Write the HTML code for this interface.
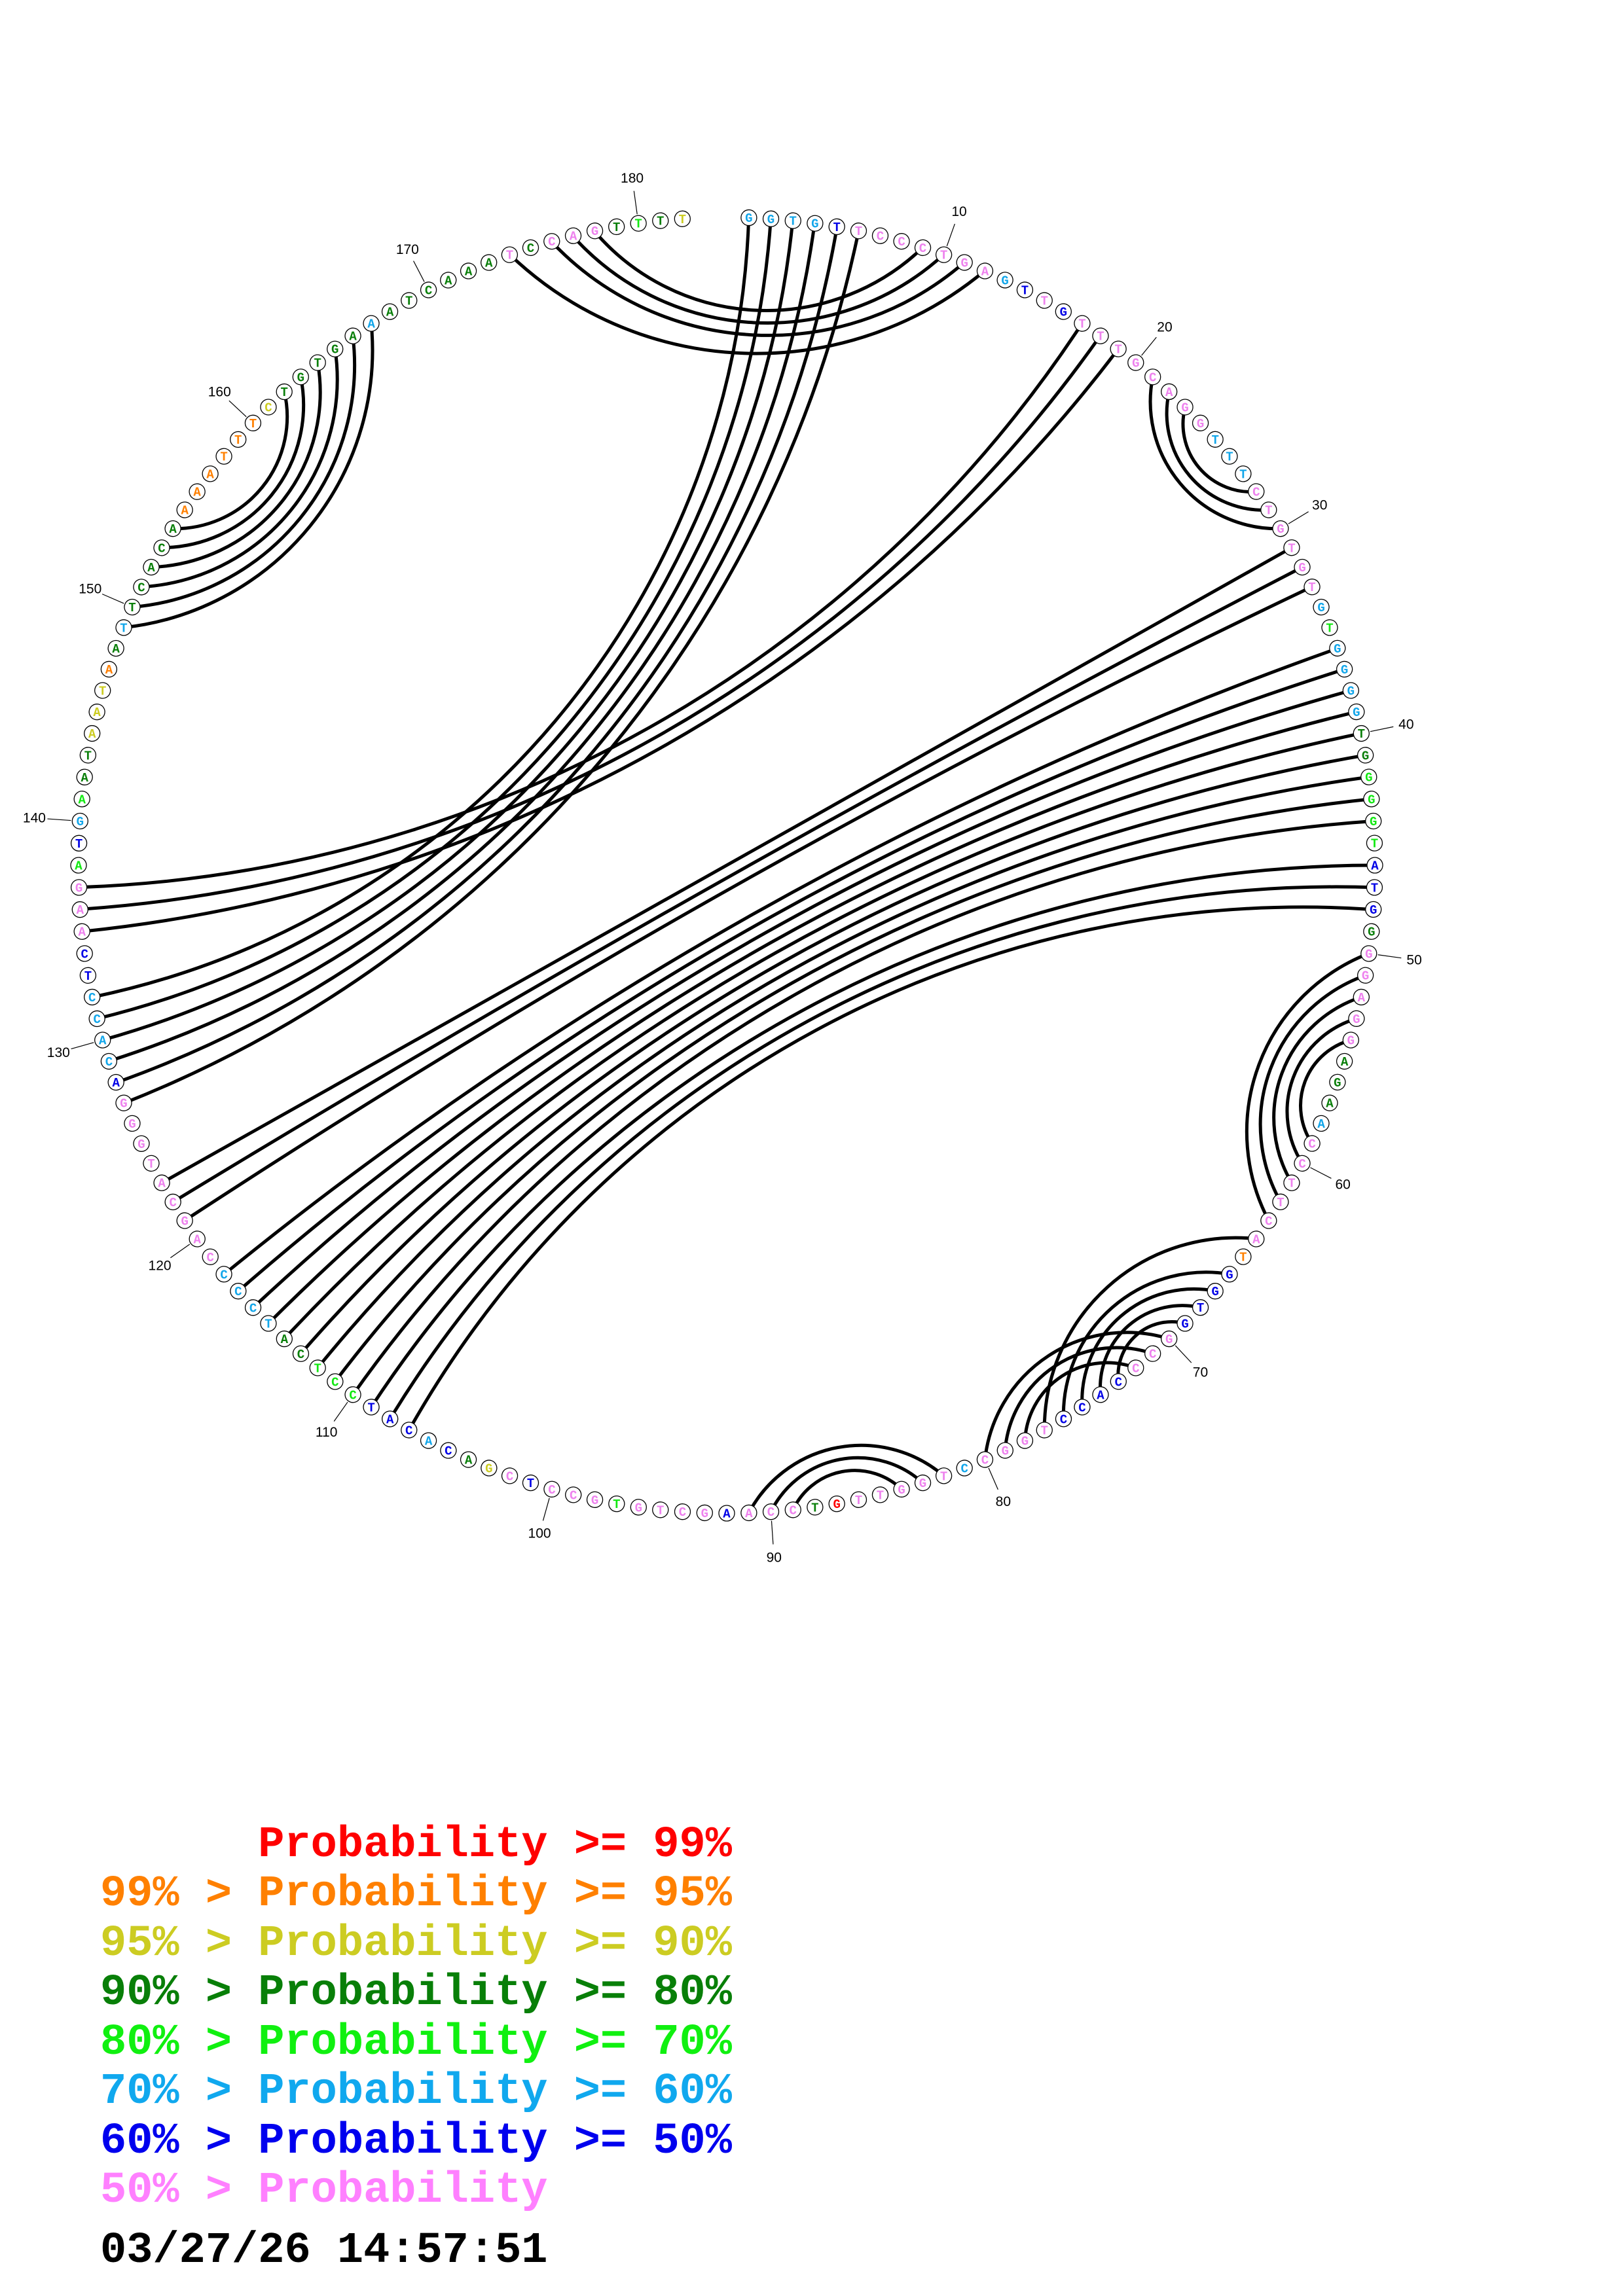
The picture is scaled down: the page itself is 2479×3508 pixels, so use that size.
<!DOCTYPE html>
<html><head><meta charset="utf-8">
<style>
html,body{margin:0;padding:0;background:#fff;}
svg{display:block;}
.n circle{fill:#fff;stroke:#000;stroke-width:1.3;}
.n text{font-family:"Liberation Mono",monospace;font-weight:bold;font-size:19px;text-anchor:middle;}
.P{fill:#ee82ee}.L{fill:#12a6ea}.B{fill:#0000e6}.D{fill:#0a7f0a}.E{fill:#12e812}.Y{fill:#cccc22}.O{fill:#ff8000}.R{fill:#ff0000}
.arc path{fill:none;stroke:#000;stroke-width:5;}
.lb line{stroke:#000;stroke-width:1.2;}
.lb text{font-family:"Liberation Sans",sans-serif;font-size:21px;text-anchor:middle;fill:#000;}
.lg text{font-family:"Liberation Mono",monospace;font-weight:bold;font-size:67px;white-space:pre;}
</style></head><body>
<svg width="2479" height="3508" viewBox="0 0 2479 3508" xmlns="http://www.w3.org/2000/svg">
<g class="arc">
<path transform="rotate(310.1 1110 1322)" d="M331.5 710.5 A1260.4 1260.4 0 0 0 1888.5 710.5"/>
<path transform="rotate(310.1 1110 1322)" d="M311.1 737.3 A1352.6 1352.6 0 0 0 1908.9 737.3"/>
<path transform="rotate(310.1 1110 1322)" d="M291.7 764.8 A1454 1454 0 0 0 1928.3 764.8"/>
<path transform="rotate(310.1 1110 1322)" d="M273.2 792.9 A1566 1566 0 0 0 1946.8 792.9"/>
<path transform="rotate(310.1 1110 1322)" d="M255.2 822.5 A1694.2 1694.2 0 0 0 1964.8 822.5"/>
<path transform="rotate(310.1 1110 1322)" d="M238.8 851.8 A1834.6 1834.6 0 0 0 1981.2 851.8"/>
<path transform="rotate(2.9 1110 1322)" d="M858.8 364.4 A345 345 0 0 0 1361.2 364.4"/>
<path transform="rotate(2.9 1110 1322)" d="M826.4 373.5 A398.9 398.9 0 0 0 1393.6 373.5"/>
<path transform="rotate(2.9 1110 1322)" d="M794.2 383.7 A455.9 455.9 0 0 0 1425.8 383.7"/>
<path transform="rotate(1.95 1110 1322)" d="M747.2 400.9 A544.7 544.7 0 0 0 1472.8 400.9"/>
<path transform="rotate(330.65 1110 1322)" d="M231.1 866.4 A1909.9 1909.9 0 0 0 1988.9 866.4"/>
<path transform="rotate(330.65 1110 1322)" d="M216 896.5 A2080 2080 0 0 0 2004 896.5"/>
<path transform="rotate(330.65 1110 1322)" d="M202 927.6 A2279.2 2279.2 0 0 0 2018 927.6"/>
<path transform="rotate(49.9 1110 1322)" d="M958.5 343.7 A194.2 194.2 0 0 0 1261.5 343.7"/>
<path transform="rotate(49.9 1110 1322)" d="M991.9 339 A147.9 147.9 0 0 0 1228.1 339"/>
<path transform="rotate(49.9 1110 1322)" d="M1025.6 335.6 A103.9 103.9 0 0 0 1194.4 335.6"/>
<path transform="rotate(150.65 1110 1322)" d="M120 1322 L2100 1322"/>
<path transform="rotate(150.65 1110 1322)" d="M120.6 1288.1 A28928 28928 0 0 0 2099.4 1288.1"/>
<path transform="rotate(150.65 1110 1322)" d="M122.3 1254.7 A14523 14523 0 0 0 2097.7 1254.7"/>
<path transform="rotate(150.65 1110 1322)" d="M134.4 1153.5 A5731 5731 0 0 0 2085.6 1153.5"/>
<path transform="rotate(150.65 1110 1322)" d="M140.7 1120.5 A4764 4764 0 0 0 2079.3 1120.5"/>
<path transform="rotate(150.65 1110 1322)" d="M148.2 1087.5 A4061 4061 0 0 0 2071.8 1087.5"/>
<path transform="rotate(150.65 1110 1322)" d="M156.7 1054.9 A3533 3533 0 0 0 2063.3 1054.9"/>
<path transform="rotate(150.65 1110 1322)" d="M166.3 1022.6 A3120 3120 0 0 0 2053.7 1022.6"/>
<path transform="rotate(150.65 1110 1322)" d="M177.2 990.4 A2785 2785 0 0 0 2042.8 990.4"/>
<path transform="rotate(150.65 1110 1322)" d="M189.1 958.9 A2511 2511 0 0 0 2030.9 958.9"/>
<path transform="rotate(150.65 1110 1322)" d="M202 927.6 A2279.2 2279.2 0 0 0 2018 927.6"/>
<path transform="rotate(150.65 1110 1322)" d="M215.9 896.7 A2080.9 2080.9 0 0 0 2004.1 896.7"/>
<path transform="rotate(151.63 1110 1322)" d="M239 851.6 A1833 1833 0 0 0 1981 851.6"/>
<path transform="rotate(151.63 1110 1322)" d="M255.5 822 A1692 1692 0 0 0 1964.5 822"/>
<path transform="rotate(151.63 1110 1322)" d="M273 793.2 A1567.2 1567.2 0 0 0 1947 793.2"/>
<path transform="rotate(110.54 1110 1322)" d="M892 356.3 A292.3 292.3 0 0 0 1328 356.3"/>
<path transform="rotate(110.54 1110 1322)" d="M925.2 349.4 A242.1 242.1 0 0 0 1294.8 349.4"/>
<path transform="rotate(110.54 1110 1322)" d="M958.5 343.7 A194.2 194.2 0 0 0 1261.5 343.7"/>
<path transform="rotate(110.54 1110 1322)" d="M991.9 339 A147.9 147.9 0 0 0 1228.1 339"/>
<path transform="rotate(110.54 1110 1322)" d="M1025.6 335.6 A103.9 103.9 0 0 0 1194.4 335.6"/>
<path transform="rotate(137.93 1110 1322)" d="M892 356.3 A292.3 292.3 0 0 0 1328 356.3"/>
<path transform="rotate(138.91 1110 1322)" d="M941.8 346.4 A218 218 0 0 0 1278.2 346.4"/>
<path transform="rotate(138.91 1110 1322)" d="M975.1 341.2 A171 171 0 0 0 1244.9 341.2"/>
<path transform="rotate(138.91 1110 1322)" d="M1008.7 337.1 A125.5 125.5 0 0 0 1211.3 337.1"/>
<path transform="rotate(138.91 1110 1322)" d="M1042.5 334.3 A82 82 0 0 0 1177.5 334.3"/>
<path transform="rotate(146.74 1110 1322)" d="M941.8 346.4 A218 218 0 0 0 1278.2 346.4"/>
<path transform="rotate(146.74 1110 1322)" d="M975.1 341.2 A171 171 0 0 0 1244.9 341.2"/>
<path transform="rotate(146.74 1110 1322)" d="M1008.7 337.1 A125.5 125.5 0 0 0 1211.3 337.1"/>
<path transform="rotate(169.24 1110 1322)" d="M958.5 343.7 A194.2 194.2 0 0 0 1261.5 343.7"/>
<path transform="rotate(169.24 1110 1322)" d="M991.9 339 A147.9 147.9 0 0 0 1228.1 339"/>
<path transform="rotate(169.24 1110 1322)" d="M1025.6 335.6 A103.9 103.9 0 0 0 1194.4 335.6"/>
<path transform="rotate(309.13 1110 1322)" d="M810.5 378.4 A426.6 426.6 0 0 0 1409.5 378.4"/>
<path transform="rotate(309.13 1110 1322)" d="M842.9 368.7 A371.5 371.5 0 0 0 1376.9 368.7"/>
<path transform="rotate(309.13 1110 1322)" d="M875.6 360.1 A317.8 317.8 0 0 0 1344.4 360.1"/>
<path transform="rotate(309.13 1110 1322)" d="M908.5 352.7 A267.4 267.4 0 0 0 1311.5 352.7"/>
<path transform="rotate(309.13 1110 1322)" d="M941.8 346.4 A218 218 0 0 0 1278.2 346.4"/>
<path transform="rotate(309.13 1110 1322)" d="M975.1 341.2 A171 171 0 0 0 1244.9 341.2"/>
</g>
<g class="lb">
<g transform="rotate(19.57 1110 1322)"><line x1="1110" y1="318" x2="1110" y2="282"/><text x="1110" y="269" transform="rotate(-19.57 1110 262)">10</text></g>
<g transform="rotate(39.13 1110 1322)"><line x1="1110" y1="318" x2="1110" y2="282"/><text x="1110" y="269" transform="rotate(-39.13 1110 262)">20</text></g>
<g transform="rotate(58.70 1110 1322)"><line x1="1110" y1="318" x2="1110" y2="282"/><text x="1110" y="269" transform="rotate(-58.70 1110 262)">30</text></g>
<g transform="rotate(78.26 1110 1322)"><line x1="1110" y1="318" x2="1110" y2="282"/><text x="1110" y="269" transform="rotate(-78.26 1110 262)">40</text></g>
<g transform="rotate(97.83 1110 1322)"><line x1="1110" y1="318" x2="1110" y2="282"/><text x="1110" y="269" transform="rotate(-97.83 1110 262)">50</text></g>
<g transform="rotate(117.39 1110 1322)"><line x1="1110" y1="318" x2="1110" y2="282"/><text x="1110" y="269" transform="rotate(-117.39 1110 262)">60</text></g>
<g transform="rotate(136.96 1110 1322)"><line x1="1110" y1="318" x2="1110" y2="282"/><text x="1110" y="269" transform="rotate(-136.96 1110 262)">70</text></g>
<g transform="rotate(156.52 1110 1322)"><line x1="1110" y1="318" x2="1110" y2="282"/><text x="1110" y="269" transform="rotate(-156.52 1110 262)">80</text></g>
<g transform="rotate(176.09 1110 1322)"><line x1="1110" y1="318" x2="1110" y2="282"/><text x="1110" y="269" transform="rotate(-176.09 1110 262)">90</text></g>
<g transform="rotate(195.65 1110 1322)"><line x1="1110" y1="318" x2="1110" y2="282"/><text x="1110" y="269" transform="rotate(-195.65 1110 262)">100</text></g>
<g transform="rotate(215.22 1110 1322)"><line x1="1110" y1="318" x2="1110" y2="282"/><text x="1110" y="269" transform="rotate(-215.22 1110 262)">110</text></g>
<g transform="rotate(234.78 1110 1322)"><line x1="1110" y1="318" x2="1110" y2="282"/><text x="1110" y="269" transform="rotate(-234.78 1110 262)">120</text></g>
<g transform="rotate(254.35 1110 1322)"><line x1="1110" y1="318" x2="1110" y2="282"/><text x="1110" y="269" transform="rotate(-254.35 1110 262)">130</text></g>
<g transform="rotate(273.91 1110 1322)"><line x1="1110" y1="318" x2="1110" y2="282"/><text x="1110" y="269" transform="rotate(-273.91 1110 262)">140</text></g>
<g transform="rotate(293.48 1110 1322)"><line x1="1110" y1="318" x2="1110" y2="282"/><text x="1110" y="269" transform="rotate(-293.48 1110 262)">150</text></g>
<g transform="rotate(313.04 1110 1322)"><line x1="1110" y1="318" x2="1110" y2="282"/><text x="1110" y="269" transform="rotate(-313.04 1110 262)">160</text></g>
<g transform="rotate(332.61 1110 1322)"><line x1="1110" y1="318" x2="1110" y2="282"/><text x="1110" y="269" transform="rotate(-332.61 1110 262)">170</text></g>
<g transform="rotate(352.17 1110 1322)"><line x1="1110" y1="318" x2="1110" y2="282"/><text x="1110" y="269" transform="rotate(-352.17 1110 262)">180</text></g>
</g>
<g class="n">
<g transform="rotate(1.96 1110 1322)"><circle cx="1110" cy="332" r="12"/><text class="L" x="1110" y="338.5" transform="rotate(-1.96 1110 332)">G</text></g>
<g transform="rotate(3.91 1110 1322)"><circle cx="1110" cy="332" r="12"/><text class="L" x="1110" y="338.5" transform="rotate(-3.91 1110 332)">G</text></g>
<g transform="rotate(5.87 1110 1322)"><circle cx="1110" cy="332" r="12"/><text class="L" x="1110" y="338.5" transform="rotate(-5.87 1110 332)">T</text></g>
<g transform="rotate(7.83 1110 1322)"><circle cx="1110" cy="332" r="12"/><text class="L" x="1110" y="338.5" transform="rotate(-7.83 1110 332)">G</text></g>
<g transform="rotate(9.78 1110 1322)"><circle cx="1110" cy="332" r="12"/><text class="B" x="1110" y="338.5" transform="rotate(-9.78 1110 332)">T</text></g>
<g transform="rotate(11.74 1110 1322)"><circle cx="1110" cy="332" r="12"/><text class="P" x="1110" y="338.5" transform="rotate(-11.74 1110 332)">T</text></g>
<g transform="rotate(13.70 1110 1322)"><circle cx="1110" cy="332" r="12"/><text class="P" x="1110" y="338.5" transform="rotate(-13.70 1110 332)">C</text></g>
<g transform="rotate(15.65 1110 1322)"><circle cx="1110" cy="332" r="12"/><text class="P" x="1110" y="338.5" transform="rotate(-15.65 1110 332)">C</text></g>
<g transform="rotate(17.61 1110 1322)"><circle cx="1110" cy="332" r="12"/><text class="P" x="1110" y="338.5" transform="rotate(-17.61 1110 332)">C</text></g>
<g transform="rotate(19.57 1110 1322)"><circle cx="1110" cy="332" r="12"/><text class="P" x="1110" y="338.5" transform="rotate(-19.57 1110 332)">T</text></g>
<g transform="rotate(21.52 1110 1322)"><circle cx="1110" cy="332" r="12"/><text class="P" x="1110" y="338.5" transform="rotate(-21.52 1110 332)">G</text></g>
<g transform="rotate(23.48 1110 1322)"><circle cx="1110" cy="332" r="12"/><text class="P" x="1110" y="338.5" transform="rotate(-23.48 1110 332)">A</text></g>
<g transform="rotate(25.43 1110 1322)"><circle cx="1110" cy="332" r="12"/><text class="L" x="1110" y="338.5" transform="rotate(-25.43 1110 332)">G</text></g>
<g transform="rotate(27.39 1110 1322)"><circle cx="1110" cy="332" r="12"/><text class="B" x="1110" y="338.5" transform="rotate(-27.39 1110 332)">T</text></g>
<g transform="rotate(29.35 1110 1322)"><circle cx="1110" cy="332" r="12"/><text class="P" x="1110" y="338.5" transform="rotate(-29.35 1110 332)">T</text></g>
<g transform="rotate(31.30 1110 1322)"><circle cx="1110" cy="332" r="12"/><text class="B" x="1110" y="338.5" transform="rotate(-31.30 1110 332)">G</text></g>
<g transform="rotate(33.26 1110 1322)"><circle cx="1110" cy="332" r="12"/><text class="P" x="1110" y="338.5" transform="rotate(-33.26 1110 332)">T</text></g>
<g transform="rotate(35.22 1110 1322)"><circle cx="1110" cy="332" r="12"/><text class="P" x="1110" y="338.5" transform="rotate(-35.22 1110 332)">T</text></g>
<g transform="rotate(37.17 1110 1322)"><circle cx="1110" cy="332" r="12"/><text class="P" x="1110" y="338.5" transform="rotate(-37.17 1110 332)">T</text></g>
<g transform="rotate(39.13 1110 1322)"><circle cx="1110" cy="332" r="12"/><text class="P" x="1110" y="338.5" transform="rotate(-39.13 1110 332)">G</text></g>
<g transform="rotate(41.09 1110 1322)"><circle cx="1110" cy="332" r="12"/><text class="P" x="1110" y="338.5" transform="rotate(-41.09 1110 332)">C</text></g>
<g transform="rotate(43.04 1110 1322)"><circle cx="1110" cy="332" r="12"/><text class="P" x="1110" y="338.5" transform="rotate(-43.04 1110 332)">A</text></g>
<g transform="rotate(45.00 1110 1322)"><circle cx="1110" cy="332" r="12"/><text class="P" x="1110" y="338.5" transform="rotate(-45.00 1110 332)">G</text></g>
<g transform="rotate(46.96 1110 1322)"><circle cx="1110" cy="332" r="12"/><text class="P" x="1110" y="338.5" transform="rotate(-46.96 1110 332)">G</text></g>
<g transform="rotate(48.91 1110 1322)"><circle cx="1110" cy="332" r="12"/><text class="L" x="1110" y="338.5" transform="rotate(-48.91 1110 332)">T</text></g>
<g transform="rotate(50.87 1110 1322)"><circle cx="1110" cy="332" r="12"/><text class="L" x="1110" y="338.5" transform="rotate(-50.87 1110 332)">T</text></g>
<g transform="rotate(52.83 1110 1322)"><circle cx="1110" cy="332" r="12"/><text class="L" x="1110" y="338.5" transform="rotate(-52.83 1110 332)">T</text></g>
<g transform="rotate(54.78 1110 1322)"><circle cx="1110" cy="332" r="12"/><text class="P" x="1110" y="338.5" transform="rotate(-54.78 1110 332)">C</text></g>
<g transform="rotate(56.74 1110 1322)"><circle cx="1110" cy="332" r="12"/><text class="P" x="1110" y="338.5" transform="rotate(-56.74 1110 332)">T</text></g>
<g transform="rotate(58.70 1110 1322)"><circle cx="1110" cy="332" r="12"/><text class="P" x="1110" y="338.5" transform="rotate(-58.70 1110 332)">G</text></g>
<g transform="rotate(60.65 1110 1322)"><circle cx="1110" cy="332" r="12"/><text class="P" x="1110" y="338.5" transform="rotate(-60.65 1110 332)">T</text></g>
<g transform="rotate(62.61 1110 1322)"><circle cx="1110" cy="332" r="12"/><text class="P" x="1110" y="338.5" transform="rotate(-62.61 1110 332)">G</text></g>
<g transform="rotate(64.56 1110 1322)"><circle cx="1110" cy="332" r="12"/><text class="P" x="1110" y="338.5" transform="rotate(-64.56 1110 332)">T</text></g>
<g transform="rotate(66.52 1110 1322)"><circle cx="1110" cy="332" r="12"/><text class="L" x="1110" y="338.5" transform="rotate(-66.52 1110 332)">G</text></g>
<g transform="rotate(68.48 1110 1322)"><circle cx="1110" cy="332" r="12"/><text class="E" x="1110" y="338.5" transform="rotate(-68.48 1110 332)">T</text></g>
<g transform="rotate(70.43 1110 1322)"><circle cx="1110" cy="332" r="12"/><text class="L" x="1110" y="338.5" transform="rotate(-70.43 1110 332)">G</text></g>
<g transform="rotate(72.39 1110 1322)"><circle cx="1110" cy="332" r="12"/><text class="L" x="1110" y="338.5" transform="rotate(-72.39 1110 332)">G</text></g>
<g transform="rotate(74.35 1110 1322)"><circle cx="1110" cy="332" r="12"/><text class="L" x="1110" y="338.5" transform="rotate(-74.35 1110 332)">G</text></g>
<g transform="rotate(76.30 1110 1322)"><circle cx="1110" cy="332" r="12"/><text class="L" x="1110" y="338.5" transform="rotate(-76.30 1110 332)">G</text></g>
<g transform="rotate(78.26 1110 1322)"><circle cx="1110" cy="332" r="12"/><text class="D" x="1110" y="338.5" transform="rotate(-78.26 1110 332)">T</text></g>
<g transform="rotate(80.22 1110 1322)"><circle cx="1110" cy="332" r="12"/><text class="D" x="1110" y="338.5" transform="rotate(-80.22 1110 332)">G</text></g>
<g transform="rotate(82.17 1110 1322)"><circle cx="1110" cy="332" r="12"/><text class="E" x="1110" y="338.5" transform="rotate(-82.17 1110 332)">G</text></g>
<g transform="rotate(84.13 1110 1322)"><circle cx="1110" cy="332" r="12"/><text class="E" x="1110" y="338.5" transform="rotate(-84.13 1110 332)">G</text></g>
<g transform="rotate(86.09 1110 1322)"><circle cx="1110" cy="332" r="12"/><text class="E" x="1110" y="338.5" transform="rotate(-86.09 1110 332)">G</text></g>
<g transform="rotate(88.04 1110 1322)"><circle cx="1110" cy="332" r="12"/><text class="E" x="1110" y="338.5" transform="rotate(-88.04 1110 332)">T</text></g>
<g transform="rotate(90.00 1110 1322)"><circle cx="1110" cy="332" r="12"/><text class="B" x="1110" y="338.5" transform="rotate(-90.00 1110 332)">A</text></g>
<g transform="rotate(91.96 1110 1322)"><circle cx="1110" cy="332" r="12"/><text class="B" x="1110" y="338.5" transform="rotate(-91.96 1110 332)">T</text></g>
<g transform="rotate(93.91 1110 1322)"><circle cx="1110" cy="332" r="12"/><text class="B" x="1110" y="338.5" transform="rotate(-93.91 1110 332)">G</text></g>
<g transform="rotate(95.87 1110 1322)"><circle cx="1110" cy="332" r="12"/><text class="D" x="1110" y="338.5" transform="rotate(-95.87 1110 332)">G</text></g>
<g transform="rotate(97.83 1110 1322)"><circle cx="1110" cy="332" r="12"/><text class="P" x="1110" y="338.5" transform="rotate(-97.83 1110 332)">G</text></g>
<g transform="rotate(99.78 1110 1322)"><circle cx="1110" cy="332" r="12"/><text class="P" x="1110" y="338.5" transform="rotate(-99.78 1110 332)">G</text></g>
<g transform="rotate(101.74 1110 1322)"><circle cx="1110" cy="332" r="12"/><text class="P" x="1110" y="338.5" transform="rotate(-101.74 1110 332)">A</text></g>
<g transform="rotate(103.69 1110 1322)"><circle cx="1110" cy="332" r="12"/><text class="P" x="1110" y="338.5" transform="rotate(-103.69 1110 332)">G</text></g>
<g transform="rotate(105.65 1110 1322)"><circle cx="1110" cy="332" r="12"/><text class="P" x="1110" y="338.5" transform="rotate(-105.65 1110 332)">G</text></g>
<g transform="rotate(107.61 1110 1322)"><circle cx="1110" cy="332" r="12"/><text class="D" x="1110" y="338.5" transform="rotate(-107.61 1110 332)">A</text></g>
<g transform="rotate(109.56 1110 1322)"><circle cx="1110" cy="332" r="12"/><text class="D" x="1110" y="338.5" transform="rotate(-109.56 1110 332)">G</text></g>
<g transform="rotate(111.52 1110 1322)"><circle cx="1110" cy="332" r="12"/><text class="D" x="1110" y="338.5" transform="rotate(-111.52 1110 332)">A</text></g>
<g transform="rotate(113.48 1110 1322)"><circle cx="1110" cy="332" r="12"/><text class="L" x="1110" y="338.5" transform="rotate(-113.48 1110 332)">A</text></g>
<g transform="rotate(115.43 1110 1322)"><circle cx="1110" cy="332" r="12"/><text class="P" x="1110" y="338.5" transform="rotate(-115.43 1110 332)">C</text></g>
<g transform="rotate(117.39 1110 1322)"><circle cx="1110" cy="332" r="12"/><text class="P" x="1110" y="338.5" transform="rotate(-117.39 1110 332)">C</text></g>
<g transform="rotate(119.35 1110 1322)"><circle cx="1110" cy="332" r="12"/><text class="P" x="1110" y="338.5" transform="rotate(-119.35 1110 332)">T</text></g>
<g transform="rotate(121.30 1110 1322)"><circle cx="1110" cy="332" r="12"/><text class="P" x="1110" y="338.5" transform="rotate(-121.30 1110 332)">T</text></g>
<g transform="rotate(123.26 1110 1322)"><circle cx="1110" cy="332" r="12"/><text class="P" x="1110" y="338.5" transform="rotate(-123.26 1110 332)">C</text></g>
<g transform="rotate(125.22 1110 1322)"><circle cx="1110" cy="332" r="12"/><text class="P" x="1110" y="338.5" transform="rotate(-125.22 1110 332)">A</text></g>
<g transform="rotate(127.17 1110 1322)"><circle cx="1110" cy="332" r="12"/><text class="O" x="1110" y="338.5" transform="rotate(-127.17 1110 332)">T</text></g>
<g transform="rotate(129.13 1110 1322)"><circle cx="1110" cy="332" r="12"/><text class="B" x="1110" y="338.5" transform="rotate(-129.13 1110 332)">G</text></g>
<g transform="rotate(131.09 1110 1322)"><circle cx="1110" cy="332" r="12"/><text class="B" x="1110" y="338.5" transform="rotate(-131.09 1110 332)">G</text></g>
<g transform="rotate(133.04 1110 1322)"><circle cx="1110" cy="332" r="12"/><text class="B" x="1110" y="338.5" transform="rotate(-133.04 1110 332)">T</text></g>
<g transform="rotate(135.00 1110 1322)"><circle cx="1110" cy="332" r="12"/><text class="B" x="1110" y="338.5" transform="rotate(-135.00 1110 332)">G</text></g>
<g transform="rotate(136.96 1110 1322)"><circle cx="1110" cy="332" r="12"/><text class="P" x="1110" y="338.5" transform="rotate(-136.96 1110 332)">G</text></g>
<g transform="rotate(138.91 1110 1322)"><circle cx="1110" cy="332" r="12"/><text class="P" x="1110" y="338.5" transform="rotate(-138.91 1110 332)">C</text></g>
<g transform="rotate(140.87 1110 1322)"><circle cx="1110" cy="332" r="12"/><text class="P" x="1110" y="338.5" transform="rotate(-140.87 1110 332)">C</text></g>
<g transform="rotate(142.82 1110 1322)"><circle cx="1110" cy="332" r="12"/><text class="B" x="1110" y="338.5" transform="rotate(-142.82 1110 332)">C</text></g>
<g transform="rotate(144.78 1110 1322)"><circle cx="1110" cy="332" r="12"/><text class="B" x="1110" y="338.5" transform="rotate(-144.78 1110 332)">A</text></g>
<g transform="rotate(146.74 1110 1322)"><circle cx="1110" cy="332" r="12"/><text class="B" x="1110" y="338.5" transform="rotate(-146.74 1110 332)">C</text></g>
<g transform="rotate(148.69 1110 1322)"><circle cx="1110" cy="332" r="12"/><text class="B" x="1110" y="338.5" transform="rotate(-148.69 1110 332)">C</text></g>
<g transform="rotate(150.65 1110 1322)"><circle cx="1110" cy="332" r="12"/><text class="P" x="1110" y="338.5" transform="rotate(-150.65 1110 332)">T</text></g>
<g transform="rotate(152.61 1110 1322)"><circle cx="1110" cy="332" r="12"/><text class="P" x="1110" y="338.5" transform="rotate(-152.61 1110 332)">G</text></g>
<g transform="rotate(154.56 1110 1322)"><circle cx="1110" cy="332" r="12"/><text class="P" x="1110" y="338.5" transform="rotate(-154.56 1110 332)">G</text></g>
<g transform="rotate(156.52 1110 1322)"><circle cx="1110" cy="332" r="12"/><text class="P" x="1110" y="338.5" transform="rotate(-156.52 1110 332)">C</text></g>
<g transform="rotate(158.48 1110 1322)"><circle cx="1110" cy="332" r="12"/><text class="L" x="1110" y="338.5" transform="rotate(-158.48 1110 332)">C</text></g>
<g transform="rotate(160.43 1110 1322)"><circle cx="1110" cy="332" r="12"/><text class="P" x="1110" y="338.5" transform="rotate(-160.43 1110 332)">T</text></g>
<g transform="rotate(162.39 1110 1322)"><circle cx="1110" cy="332" r="12"/><text class="P" x="1110" y="338.5" transform="rotate(-162.39 1110 332)">G</text></g>
<g transform="rotate(164.35 1110 1322)"><circle cx="1110" cy="332" r="12"/><text class="P" x="1110" y="338.5" transform="rotate(-164.35 1110 332)">G</text></g>
<g transform="rotate(166.30 1110 1322)"><circle cx="1110" cy="332" r="12"/><text class="P" x="1110" y="338.5" transform="rotate(-166.30 1110 332)">T</text></g>
<g transform="rotate(168.26 1110 1322)"><circle cx="1110" cy="332" r="12"/><text class="P" x="1110" y="338.5" transform="rotate(-168.26 1110 332)">T</text></g>
<g transform="rotate(170.22 1110 1322)"><circle cx="1110" cy="332" r="12"/><text class="R" x="1110" y="338.5" transform="rotate(-170.22 1110 332)">G</text></g>
<g transform="rotate(172.17 1110 1322)"><circle cx="1110" cy="332" r="12"/><text class="D" x="1110" y="338.5" transform="rotate(-172.17 1110 332)">T</text></g>
<g transform="rotate(174.13 1110 1322)"><circle cx="1110" cy="332" r="12"/><text class="P" x="1110" y="338.5" transform="rotate(-174.13 1110 332)">C</text></g>
<g transform="rotate(176.09 1110 1322)"><circle cx="1110" cy="332" r="12"/><text class="P" x="1110" y="338.5" transform="rotate(-176.09 1110 332)">C</text></g>
<g transform="rotate(178.04 1110 1322)"><circle cx="1110" cy="332" r="12"/><text class="P" x="1110" y="338.5" transform="rotate(-178.04 1110 332)">A</text></g>
<g transform="rotate(180.00 1110 1322)"><circle cx="1110" cy="332" r="12"/><text class="B" x="1110" y="338.5" transform="rotate(-180.00 1110 332)">A</text></g>
<g transform="rotate(181.95 1110 1322)"><circle cx="1110" cy="332" r="12"/><text class="P" x="1110" y="338.5" transform="rotate(-181.95 1110 332)">G</text></g>
<g transform="rotate(183.91 1110 1322)"><circle cx="1110" cy="332" r="12"/><text class="P" x="1110" y="338.5" transform="rotate(-183.91 1110 332)">C</text></g>
<g transform="rotate(185.87 1110 1322)"><circle cx="1110" cy="332" r="12"/><text class="P" x="1110" y="338.5" transform="rotate(-185.87 1110 332)">T</text></g>
<g transform="rotate(187.82 1110 1322)"><circle cx="1110" cy="332" r="12"/><text class="P" x="1110" y="338.5" transform="rotate(-187.82 1110 332)">G</text></g>
<g transform="rotate(189.78 1110 1322)"><circle cx="1110" cy="332" r="12"/><text class="E" x="1110" y="338.5" transform="rotate(-189.78 1110 332)">T</text></g>
<g transform="rotate(191.74 1110 1322)"><circle cx="1110" cy="332" r="12"/><text class="P" x="1110" y="338.5" transform="rotate(-191.74 1110 332)">G</text></g>
<g transform="rotate(193.69 1110 1322)"><circle cx="1110" cy="332" r="12"/><text class="P" x="1110" y="338.5" transform="rotate(-193.69 1110 332)">C</text></g>
<g transform="rotate(195.65 1110 1322)"><circle cx="1110" cy="332" r="12"/><text class="P" x="1110" y="338.5" transform="rotate(-195.65 1110 332)">C</text></g>
<g transform="rotate(197.61 1110 1322)"><circle cx="1110" cy="332" r="12"/><text class="B" x="1110" y="338.5" transform="rotate(-197.61 1110 332)">T</text></g>
<g transform="rotate(199.56 1110 1322)"><circle cx="1110" cy="332" r="12"/><text class="P" x="1110" y="338.5" transform="rotate(-199.56 1110 332)">C</text></g>
<g transform="rotate(201.52 1110 1322)"><circle cx="1110" cy="332" r="12"/><text class="Y" x="1110" y="338.5" transform="rotate(-201.52 1110 332)">G</text></g>
<g transform="rotate(203.48 1110 1322)"><circle cx="1110" cy="332" r="12"/><text class="D" x="1110" y="338.5" transform="rotate(-203.48 1110 332)">A</text></g>
<g transform="rotate(205.43 1110 1322)"><circle cx="1110" cy="332" r="12"/><text class="B" x="1110" y="338.5" transform="rotate(-205.43 1110 332)">C</text></g>
<g transform="rotate(207.39 1110 1322)"><circle cx="1110" cy="332" r="12"/><text class="L" x="1110" y="338.5" transform="rotate(-207.39 1110 332)">A</text></g>
<g transform="rotate(209.35 1110 1322)"><circle cx="1110" cy="332" r="12"/><text class="B" x="1110" y="338.5" transform="rotate(-209.35 1110 332)">C</text></g>
<g transform="rotate(211.30 1110 1322)"><circle cx="1110" cy="332" r="12"/><text class="B" x="1110" y="338.5" transform="rotate(-211.30 1110 332)">A</text></g>
<g transform="rotate(213.26 1110 1322)"><circle cx="1110" cy="332" r="12"/><text class="B" x="1110" y="338.5" transform="rotate(-213.26 1110 332)">T</text></g>
<g transform="rotate(215.22 1110 1322)"><circle cx="1110" cy="332" r="12"/><text class="E" x="1110" y="338.5" transform="rotate(-215.22 1110 332)">C</text></g>
<g transform="rotate(217.17 1110 1322)"><circle cx="1110" cy="332" r="12"/><text class="E" x="1110" y="338.5" transform="rotate(-217.17 1110 332)">C</text></g>
<g transform="rotate(219.13 1110 1322)"><circle cx="1110" cy="332" r="12"/><text class="E" x="1110" y="338.5" transform="rotate(-219.13 1110 332)">T</text></g>
<g transform="rotate(221.08 1110 1322)"><circle cx="1110" cy="332" r="12"/><text class="D" x="1110" y="338.5" transform="rotate(-221.08 1110 332)">C</text></g>
<g transform="rotate(223.04 1110 1322)"><circle cx="1110" cy="332" r="12"/><text class="D" x="1110" y="338.5" transform="rotate(-223.04 1110 332)">A</text></g>
<g transform="rotate(225.00 1110 1322)"><circle cx="1110" cy="332" r="12"/><text class="L" x="1110" y="338.5" transform="rotate(-225.00 1110 332)">T</text></g>
<g transform="rotate(226.95 1110 1322)"><circle cx="1110" cy="332" r="12"/><text class="L" x="1110" y="338.5" transform="rotate(-226.95 1110 332)">C</text></g>
<g transform="rotate(228.91 1110 1322)"><circle cx="1110" cy="332" r="12"/><text class="L" x="1110" y="338.5" transform="rotate(-228.91 1110 332)">C</text></g>
<g transform="rotate(230.87 1110 1322)"><circle cx="1110" cy="332" r="12"/><text class="L" x="1110" y="338.5" transform="rotate(-230.87 1110 332)">C</text></g>
<g transform="rotate(232.82 1110 1322)"><circle cx="1110" cy="332" r="12"/><text class="P" x="1110" y="338.5" transform="rotate(-232.82 1110 332)">C</text></g>
<g transform="rotate(234.78 1110 1322)"><circle cx="1110" cy="332" r="12"/><text class="P" x="1110" y="338.5" transform="rotate(-234.78 1110 332)">A</text></g>
<g transform="rotate(236.74 1110 1322)"><circle cx="1110" cy="332" r="12"/><text class="P" x="1110" y="338.5" transform="rotate(-236.74 1110 332)">G</text></g>
<g transform="rotate(238.69 1110 1322)"><circle cx="1110" cy="332" r="12"/><text class="P" x="1110" y="338.5" transform="rotate(-238.69 1110 332)">C</text></g>
<g transform="rotate(240.65 1110 1322)"><circle cx="1110" cy="332" r="12"/><text class="P" x="1110" y="338.5" transform="rotate(-240.65 1110 332)">A</text></g>
<g transform="rotate(242.61 1110 1322)"><circle cx="1110" cy="332" r="12"/><text class="P" x="1110" y="338.5" transform="rotate(-242.61 1110 332)">T</text></g>
<g transform="rotate(244.56 1110 1322)"><circle cx="1110" cy="332" r="12"/><text class="P" x="1110" y="338.5" transform="rotate(-244.56 1110 332)">G</text></g>
<g transform="rotate(246.52 1110 1322)"><circle cx="1110" cy="332" r="12"/><text class="P" x="1110" y="338.5" transform="rotate(-246.52 1110 332)">G</text></g>
<g transform="rotate(248.48 1110 1322)"><circle cx="1110" cy="332" r="12"/><text class="P" x="1110" y="338.5" transform="rotate(-248.48 1110 332)">G</text></g>
<g transform="rotate(250.43 1110 1322)"><circle cx="1110" cy="332" r="12"/><text class="B" x="1110" y="338.5" transform="rotate(-250.43 1110 332)">A</text></g>
<g transform="rotate(252.39 1110 1322)"><circle cx="1110" cy="332" r="12"/><text class="L" x="1110" y="338.5" transform="rotate(-252.39 1110 332)">C</text></g>
<g transform="rotate(254.35 1110 1322)"><circle cx="1110" cy="332" r="12"/><text class="L" x="1110" y="338.5" transform="rotate(-254.35 1110 332)">A</text></g>
<g transform="rotate(256.30 1110 1322)"><circle cx="1110" cy="332" r="12"/><text class="L" x="1110" y="338.5" transform="rotate(-256.30 1110 332)">C</text></g>
<g transform="rotate(258.26 1110 1322)"><circle cx="1110" cy="332" r="12"/><text class="L" x="1110" y="338.5" transform="rotate(-258.26 1110 332)">C</text></g>
<g transform="rotate(260.21 1110 1322)"><circle cx="1110" cy="332" r="12"/><text class="B" x="1110" y="338.5" transform="rotate(-260.21 1110 332)">T</text></g>
<g transform="rotate(262.17 1110 1322)"><circle cx="1110" cy="332" r="12"/><text class="B" x="1110" y="338.5" transform="rotate(-262.17 1110 332)">C</text></g>
<g transform="rotate(264.13 1110 1322)"><circle cx="1110" cy="332" r="12"/><text class="P" x="1110" y="338.5" transform="rotate(-264.13 1110 332)">A</text></g>
<g transform="rotate(266.08 1110 1322)"><circle cx="1110" cy="332" r="12"/><text class="P" x="1110" y="338.5" transform="rotate(-266.08 1110 332)">A</text></g>
<g transform="rotate(268.04 1110 1322)"><circle cx="1110" cy="332" r="12"/><text class="P" x="1110" y="338.5" transform="rotate(-268.04 1110 332)">G</text></g>
<g transform="rotate(270.00 1110 1322)"><circle cx="1110" cy="332" r="12"/><text class="E" x="1110" y="338.5" transform="rotate(-270.00 1110 332)">A</text></g>
<g transform="rotate(271.95 1110 1322)"><circle cx="1110" cy="332" r="12"/><text class="B" x="1110" y="338.5" transform="rotate(-271.95 1110 332)">T</text></g>
<g transform="rotate(273.91 1110 1322)"><circle cx="1110" cy="332" r="12"/><text class="L" x="1110" y="338.5" transform="rotate(-273.91 1110 332)">G</text></g>
<g transform="rotate(275.87 1110 1322)"><circle cx="1110" cy="332" r="12"/><text class="E" x="1110" y="338.5" transform="rotate(-275.87 1110 332)">A</text></g>
<g transform="rotate(277.82 1110 1322)"><circle cx="1110" cy="332" r="12"/><text class="D" x="1110" y="338.5" transform="rotate(-277.82 1110 332)">A</text></g>
<g transform="rotate(279.78 1110 1322)"><circle cx="1110" cy="332" r="12"/><text class="D" x="1110" y="338.5" transform="rotate(-279.78 1110 332)">T</text></g>
<g transform="rotate(281.74 1110 1322)"><circle cx="1110" cy="332" r="12"/><text class="Y" x="1110" y="338.5" transform="rotate(-281.74 1110 332)">A</text></g>
<g transform="rotate(283.69 1110 1322)"><circle cx="1110" cy="332" r="12"/><text class="Y" x="1110" y="338.5" transform="rotate(-283.69 1110 332)">A</text></g>
<g transform="rotate(285.65 1110 1322)"><circle cx="1110" cy="332" r="12"/><text class="Y" x="1110" y="338.5" transform="rotate(-285.65 1110 332)">T</text></g>
<g transform="rotate(287.61 1110 1322)"><circle cx="1110" cy="332" r="12"/><text class="O" x="1110" y="338.5" transform="rotate(-287.61 1110 332)">A</text></g>
<g transform="rotate(289.56 1110 1322)"><circle cx="1110" cy="332" r="12"/><text class="D" x="1110" y="338.5" transform="rotate(-289.56 1110 332)">A</text></g>
<g transform="rotate(291.52 1110 1322)"><circle cx="1110" cy="332" r="12"/><text class="L" x="1110" y="338.5" transform="rotate(-291.52 1110 332)">T</text></g>
<g transform="rotate(293.48 1110 1322)"><circle cx="1110" cy="332" r="12"/><text class="D" x="1110" y="338.5" transform="rotate(-293.48 1110 332)">T</text></g>
<g transform="rotate(295.43 1110 1322)"><circle cx="1110" cy="332" r="12"/><text class="D" x="1110" y="338.5" transform="rotate(-295.43 1110 332)">C</text></g>
<g transform="rotate(297.39 1110 1322)"><circle cx="1110" cy="332" r="12"/><text class="D" x="1110" y="338.5" transform="rotate(-297.39 1110 332)">A</text></g>
<g transform="rotate(299.34 1110 1322)"><circle cx="1110" cy="332" r="12"/><text class="D" x="1110" y="338.5" transform="rotate(-299.34 1110 332)">C</text></g>
<g transform="rotate(301.30 1110 1322)"><circle cx="1110" cy="332" r="12"/><text class="D" x="1110" y="338.5" transform="rotate(-301.30 1110 332)">A</text></g>
<g transform="rotate(303.26 1110 1322)"><circle cx="1110" cy="332" r="12"/><text class="O" x="1110" y="338.5" transform="rotate(-303.26 1110 332)">A</text></g>
<g transform="rotate(305.21 1110 1322)"><circle cx="1110" cy="332" r="12"/><text class="O" x="1110" y="338.5" transform="rotate(-305.21 1110 332)">A</text></g>
<g transform="rotate(307.17 1110 1322)"><circle cx="1110" cy="332" r="12"/><text class="O" x="1110" y="338.5" transform="rotate(-307.17 1110 332)">A</text></g>
<g transform="rotate(309.13 1110 1322)"><circle cx="1110" cy="332" r="12"/><text class="O" x="1110" y="338.5" transform="rotate(-309.13 1110 332)">T</text></g>
<g transform="rotate(311.08 1110 1322)"><circle cx="1110" cy="332" r="12"/><text class="O" x="1110" y="338.5" transform="rotate(-311.08 1110 332)">T</text></g>
<g transform="rotate(313.04 1110 1322)"><circle cx="1110" cy="332" r="12"/><text class="O" x="1110" y="338.5" transform="rotate(-313.04 1110 332)">T</text></g>
<g transform="rotate(315.00 1110 1322)"><circle cx="1110" cy="332" r="12"/><text class="Y" x="1110" y="338.5" transform="rotate(-315.00 1110 332)">C</text></g>
<g transform="rotate(316.95 1110 1322)"><circle cx="1110" cy="332" r="12"/><text class="D" x="1110" y="338.5" transform="rotate(-316.95 1110 332)">T</text></g>
<g transform="rotate(318.91 1110 1322)"><circle cx="1110" cy="332" r="12"/><text class="D" x="1110" y="338.5" transform="rotate(-318.91 1110 332)">G</text></g>
<g transform="rotate(320.87 1110 1322)"><circle cx="1110" cy="332" r="12"/><text class="D" x="1110" y="338.5" transform="rotate(-320.87 1110 332)">T</text></g>
<g transform="rotate(322.82 1110 1322)"><circle cx="1110" cy="332" r="12"/><text class="D" x="1110" y="338.5" transform="rotate(-322.82 1110 332)">G</text></g>
<g transform="rotate(324.78 1110 1322)"><circle cx="1110" cy="332" r="12"/><text class="D" x="1110" y="338.5" transform="rotate(-324.78 1110 332)">A</text></g>
<g transform="rotate(326.74 1110 1322)"><circle cx="1110" cy="332" r="12"/><text class="L" x="1110" y="338.5" transform="rotate(-326.74 1110 332)">A</text></g>
<g transform="rotate(328.69 1110 1322)"><circle cx="1110" cy="332" r="12"/><text class="D" x="1110" y="338.5" transform="rotate(-328.69 1110 332)">A</text></g>
<g transform="rotate(330.65 1110 1322)"><circle cx="1110" cy="332" r="12"/><text class="D" x="1110" y="338.5" transform="rotate(-330.65 1110 332)">T</text></g>
<g transform="rotate(332.61 1110 1322)"><circle cx="1110" cy="332" r="12"/><text class="D" x="1110" y="338.5" transform="rotate(-332.61 1110 332)">C</text></g>
<g transform="rotate(334.56 1110 1322)"><circle cx="1110" cy="332" r="12"/><text class="D" x="1110" y="338.5" transform="rotate(-334.56 1110 332)">A</text></g>
<g transform="rotate(336.52 1110 1322)"><circle cx="1110" cy="332" r="12"/><text class="D" x="1110" y="338.5" transform="rotate(-336.52 1110 332)">A</text></g>
<g transform="rotate(338.47 1110 1322)"><circle cx="1110" cy="332" r="12"/><text class="D" x="1110" y="338.5" transform="rotate(-338.47 1110 332)">A</text></g>
<g transform="rotate(340.43 1110 1322)"><circle cx="1110" cy="332" r="12"/><text class="P" x="1110" y="338.5" transform="rotate(-340.43 1110 332)">T</text></g>
<g transform="rotate(342.39 1110 1322)"><circle cx="1110" cy="332" r="12"/><text class="D" x="1110" y="338.5" transform="rotate(-342.39 1110 332)">C</text></g>
<g transform="rotate(344.34 1110 1322)"><circle cx="1110" cy="332" r="12"/><text class="P" x="1110" y="338.5" transform="rotate(-344.34 1110 332)">C</text></g>
<g transform="rotate(346.30 1110 1322)"><circle cx="1110" cy="332" r="12"/><text class="P" x="1110" y="338.5" transform="rotate(-346.30 1110 332)">A</text></g>
<g transform="rotate(348.26 1110 1322)"><circle cx="1110" cy="332" r="12"/><text class="P" x="1110" y="338.5" transform="rotate(-348.26 1110 332)">G</text></g>
<g transform="rotate(350.21 1110 1322)"><circle cx="1110" cy="332" r="12"/><text class="D" x="1110" y="338.5" transform="rotate(-350.21 1110 332)">T</text></g>
<g transform="rotate(352.17 1110 1322)"><circle cx="1110" cy="332" r="12"/><text class="E" x="1110" y="338.5" transform="rotate(-352.17 1110 332)">T</text></g>
<g transform="rotate(354.13 1110 1322)"><circle cx="1110" cy="332" r="12"/><text class="D" x="1110" y="338.5" transform="rotate(-354.13 1110 332)">T</text></g>
<g transform="rotate(356.08 1110 1322)"><circle cx="1110" cy="332" r="12"/><text class="Y" x="1110" y="338.5" transform="rotate(-356.08 1110 332)">T</text></g>
</g>
<g class="lg">
<text x="153" y="2836" fill="#ff0000">      Probability &gt;= 99%</text>
<text x="153" y="2911" fill="#ff8000">99% &gt; Probability &gt;= 95%</text>
<text x="153" y="2987" fill="#cccc22">95% &gt; Probability &gt;= 90%</text>
<text x="153" y="3062" fill="#087f08">90% &gt; Probability &gt;= 80%</text>
<text x="153" y="3138" fill="#10f010">80% &gt; Probability &gt;= 70%</text>
<text x="153" y="3213" fill="#10a8ee">70% &gt; Probability &gt;= 60%</text>
<text x="153" y="3289" fill="#0000ee">60% &gt; Probability &gt;= 50%</text>
<text x="153" y="3364" fill="#ff80ff">50% &gt; Probability</text>
<text x="153" y="3456" fill="#000000">03/27/26 14:57:51</text>
</g>
</svg>
</body></html>
